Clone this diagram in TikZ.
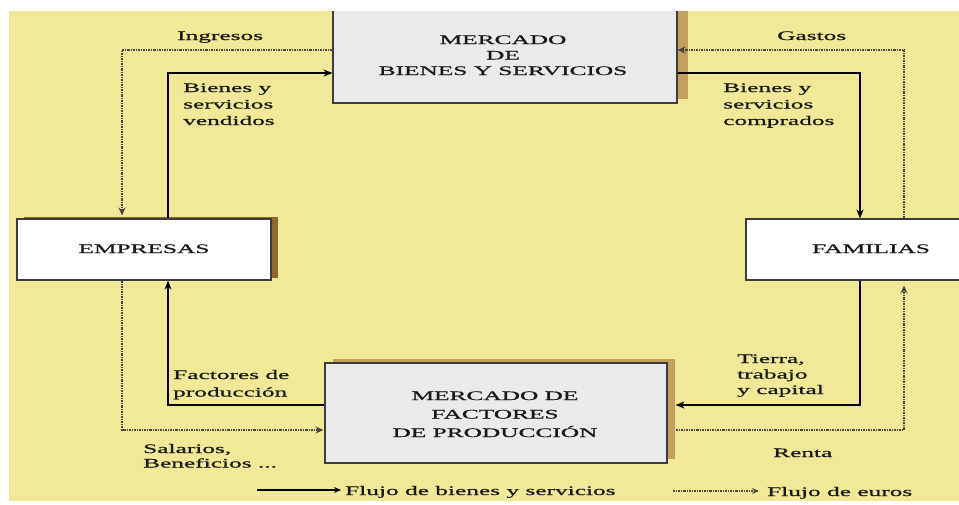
\documentclass[tikz,border=0pt]{standalone}
\usepackage{fontspec}
\setmainfont{Liberation Serif}
\newfontfamily\dfont{Liberation Serif}[FakeBold=0.6]
\usetikzlibrary{arrows.meta,shadows,calc}
\definecolor{bgyel}{RGB}{240,234,152}
\definecolor{boxgray}{RGB}{234,234,234}
\definecolor{shtan}{RGB}{196,160,96}
\definecolor{shbrown}{RGB}{150,100,45}
\definecolor{moneyc}{RGB}{70,70,60}
\definecolor{ink}{RGB}{25,25,25}
\newcommand{\wtext}[2][l]{\scalebox{1.95}[1]{\begin{tabular}[t]{@{}#1@{}}#2\end{tabular}}}
\begin{document}
\begin{tikzpicture}[x=1pt,y=-1pt,
  lbl/.style={inner sep=0pt, anchor=base west, text=ink, font=\dfont\fontsize{13}{16.5}\selectfont},
  ctxt/.style={inner sep=0pt, anchor=base, text=ink, font=\dfont\fontsize{13}{15.5}\selectfont},
  boxnode/.style={draw=ink!85, line width=1.1pt, inner sep=0pt},
  goods/.style={draw=black, line width=1.8pt, -{Stealth[length=9pt,width=7pt]}},
  money/.style={draw=moneyc, line width=1.6pt, dash pattern=on 2.2pt off 1pt on 1pt off 1pt, -{Stealth[length=8pt,width=7pt]}}
]
\useasboundingbox (0,0) rectangle (959,504);
\fill[white] (0,0) rectangle (959,504);
\clip (9,11) rectangle (959,501);
\fill[bgyel] (9,11) rectangle (959,501);

% boxes
\node[boxnode, fill=boxgray, minimum width=344pt, minimum height=100pt,
  drop shadow={shadow xshift=11pt, shadow yshift=4pt, fill=shtan, opacity=1}] (mbs) at (505,53) {};
\node[boxnode, fill=white, minimum width=254pt, minimum height=61pt,
  drop shadow={shadow xshift=7pt, shadow yshift=2pt, fill=shbrown, opacity=1}] (emp) at (144,249.5) {};
\node[boxnode, fill=white, minimum width=250pt, minimum height=61pt] (fam) at (871,249.5) {};
\node[boxnode, fill=boxgray, minimum width=342pt, minimum height=100pt,
  drop shadow={shadow xshift=8pt, shadow yshift=4pt, fill=shtan, opacity=1}] (mfp) at (496,413) {};

% box texts
\node[ctxt] (mbst) at (503,44) {\wtext[c]{MERCADO\\DE\\BIENES Y SERVICIOS}};
\node[ctxt] (empt) at (144,253) {\wtext[c]{EMPRESAS}};
\node[ctxt] (famt) at (871,253) {\wtext[c]{FAMILIAS}};
\node[ctxt, font=\dfont\fontsize{13}{18.5}\selectfont] (mfpt) at (495,400) {\wtext[c]{MERCADO DE\\FACTORES\\DE PRODUCCIÓN}};

% route coordinates
\coordinate (xa) at (122,0);
\coordinate (xb) at (168,0);
\coordinate (xc) at (860,0);
\coordinate (xd) at (904,0);
\coordinate (ya) at (0,50);
\coordinate (yb) at (0,73);
\coordinate (yc) at (0,405);
\coordinate (yd) at (0,430);

% goods flows
\draw[goods] (emp.north -| xb) |- (mbs.west |- yb);
\draw[goods] (mbs.east |- yb) -| (fam.north -| xc);
\draw[goods] (fam.south -| xc) |- ($(mfp.east |- yc)+(8,0)$);
\draw[goods] (mfp.west |- yc) -| (emp.south -| xb);

% money flows
\draw[money, shorten >=3pt] (mbs.west |- ya) -| (emp.north -| xa);
\draw[money] (fam.north -| xd) |- (mbs.east |- ya);
\draw[money, shorten >=1pt] (emp.south -| xa) |- (mfp.west |- yd);
\draw[money, shorten >=5pt] ($(mfp.east |- yd)+(8,0)$) -| (fam.south -| xd);

% labels
\node[lbl] (ling) at (177,40) {\wtext{Ingresos}};
\node[lbl] (lgas) at (777,40) {\wtext{Gastos}};
\node[lbl] (lbv) at (183,92) {\wtext{Bienes y\\servicios\\vendidos}};
\node[lbl] (lbc) at (723,92) {\wtext{Bienes y\\servicios\\comprados}};
\node[lbl, font=\dfont\fontsize{13}{17.5}\selectfont] (lfp) at (173,379) {\wtext{Factores de\\producción}};
\node[lbl, font=\dfont\fontsize{13}{15.5}\selectfont] (ltt) at (737,363) {\wtext{Tierra,\\trabajo\\y capital}};
\node[lbl, font=\dfont\fontsize{13}{14.5}\selectfont] (lsb) at (143,453) {\wtext{Salarios,\\Beneficios ...}};
\node[lbl] (lren) at (773,457) {\wtext{Renta}};

% legend
\coordinate (lg1) at (257,490);
\coordinate (lg2) at (673,491);
\node[lbl] (lt1) at (345,495) {\wtext{Flujo de bienes y servicios}};
\node[lbl] (lt2) at (767,496) {\wtext{Flujo de euros}};
\draw[goods, line width=1.3pt, -{Stealth[length=7pt,width=6pt]}, shorten >=4pt] (lg1) -- (lt1.west |- lg1);
\draw[money, line width=1.2pt, -{Stealth[length=7pt,width=6pt]}, shorten >=8pt] (lg2) -- (lt2.west |- lg2);
\end{tikzpicture}
\end{document}
